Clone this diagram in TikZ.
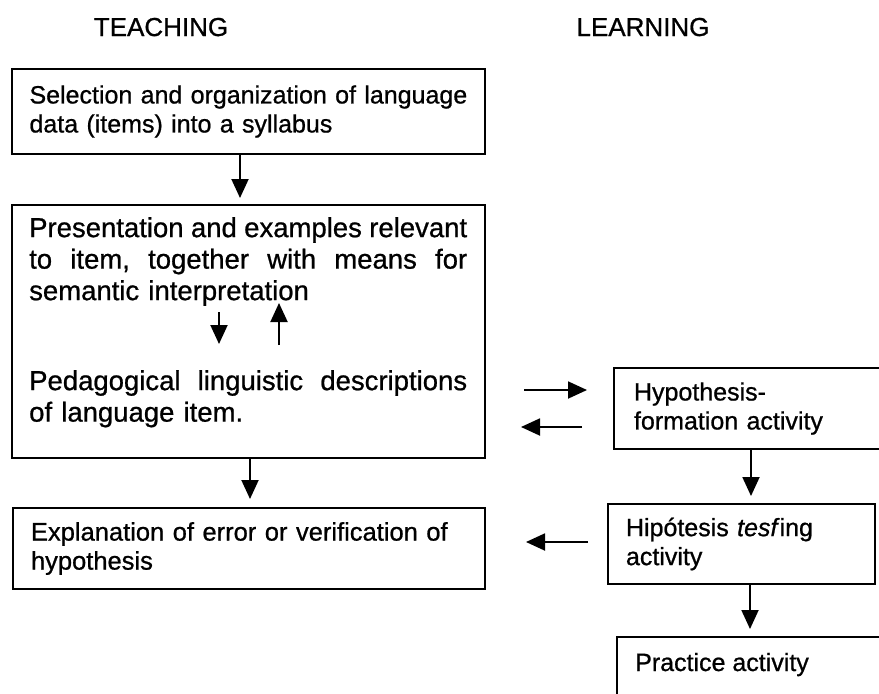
\documentclass[tikz,border=0pt]{standalone}
\usepackage{fontspec}
\setmainfont{Liberation Sans}[UprightFeatures={FakeBold=0.8},ItalicFeatures={FakeBold=0.8}]
\usetikzlibrary{arrows.meta}
\newcommand\bodyfont{\fontsize{25}{29}\selectfont}
\newcommand\explfont{\fontsize{25.5}{29}\selectfont}
\newcommand\widefont{\fontsize{27.5}{31.5}\selectfont}
\newcommand\headfont{\fontsize{26}{30}\selectfont}
\begin{document}
\begin{tikzpicture}[x=1pt,y=-1pt,
  box/.style={draw, line width=2pt, rectangle, inner ysep=0pt, align=left, font=\bodyfont},
  txt/.style={inner sep=0pt, align=left, font=\widefont},
  arr/.style={line width=1.9pt, -{Triangle[length=19pt,width=17pt]}},
  head/.style={font=\headfont, inner sep=0pt, anchor=base}]
\fill[white] (0,0) rectangle (879,694);
\useasboundingbox (0,0) rectangle (879,694);
\clip (0,0) rectangle (879,694);

% headings
\node[head] (teach) at (161,36) {TEACHING};
\node[head] (learn) at (643,36) {LEARNING};

% teaching column
\node[box, anchor=north west, minimum width=473pt, minimum height=85pt,
      text width=438pt, inner xsep=17.5pt] (sel) at (11,68)
  {Selection and organization of language\\data (items) into a syllabus};

\node[box, anchor=north west, minimum width=473pt, minimum height=253pt] (pres) at (11,204) {};
\node[txt, anchor=north west, text width=440pt] (prestext) at (29,217)
  {\makebox[438pt]{Presentation\hfill and\hfill examples\hfill relevant}\\
   \makebox[438pt]{to\hfill item,\hfill together\hfill with\hfill means\hfill for}\\
   semantic interpretation};
\node[txt, anchor=north west, text width=440pt] (pedtext) at (29,370)
  {\makebox[438pt]{Pedagogical\hfill linguistic\hfill descriptions}\\
   of language item.};

\node[box, font=\explfont, anchor=north west, minimum width=472pt, minimum height=81pt,
      text width=436pt, inner xsep=18pt] (expl) at (12,507)
  {Explanation of error or verification of\\hypothesis};

% learning column
\node[box, anchor=north west, minimum width=300pt, minimum height=81pt,
      text width=260pt, inner xsep=18pt] (hyp) at (613,367)
  {Hypothesis-\\formation activity};
\node[box, anchor=north west, minimum width=267pt, minimum height=80pt,
      text width=231pt, inner xsep=18pt] (hip) at (607,503)
  {Hipótesis \textit{tesf}ing\\activity};
\node[box, anchor=north west, minimum width=300pt, minimum height=90pt] (prac) at (616,636) {};
\node[inner sep=0pt, font=\bodyfont, anchor=base west] (practext) at (635,671) {Practice activity};

% vertical connectors
\coordinate (x240) at (240,0);
\coordinate (x250) at (250,0);
\coordinate (x751) at (751,0);
\coordinate (x750) at (750,0);
\draw[arr] (sel.south -| x240) -- ([yshift=6pt]pres.north -| x240);
\draw[arr] (pres.south -| x250) -- ([yshift=8pt]expl.north -| x250);
\draw[arr] (hyp.south -| x751) -- ([yshift=7pt]hip.north -| x751);
\draw[arr] (hip.south -| x750) -- ([yshift=7pt]prac.north -| x750);

% arrows inside the presentation box
\coordinate (da) at (219,312);
\coordinate (db) at (219,344);
\coordinate (ua) at (279,345);
\coordinate (ub) at (279,303);
\draw[arr] (da) -- (db);
\draw[arr] (ua) -- (ub);

% horizontal arrows between columns
\coordinate (ra1) at (524,390);
\coordinate (ra2) at (587,390);
\coordinate (la1) at (582,427);
\coordinate (la2) at (521,427);
\coordinate (lb1) at (588,542);
\coordinate (lb2) at (526,542);
\draw[arr] (ra1) -- (ra2);
\draw[arr] (la1) -- (la2);
\draw[arr] (lb1) -- (lb2);
\end{tikzpicture}
\end{document}
